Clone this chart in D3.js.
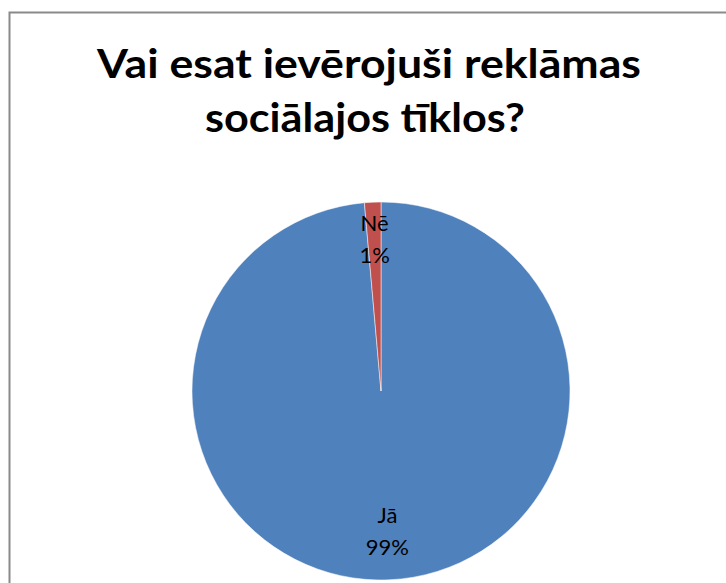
<!DOCTYPE html>
<html>
<head>
<meta charset="utf-8">
<script src="https://cdn.jsdelivr.net/npm/d3@7"></script>
<style>
  html, body { margin: 0; padding: 0; background: #fff; }
  svg { display: block; }
</style>
</head>
<body>
<svg id="chart"></svg>
<script>
// data
const categories = ["Jā", "Nē"]
const values = [98.6, 1.4]
const pctLabels = ["99%", "1%"]
const colors = ["#4F81BD", "#C0504D"]
const titleLines = ["Vai esat ievērojuši reklāmas", "sociālajos tīklos?"]

const W = 726, H = 583
const svg = d3.select("#chart").attr("width", W).attr("height", H)

// chart frame (runs off right and bottom)
svg.append("rect")
    .attr("x", 9.5).attr("y", 12.5)
    .attr("width", W + 20).attr("height", H + 20)
    .attr("fill", "#fff")
    .attr("stroke", "#8a8a8a")
    .attr("stroke-width", 2)

// title
const titleWidths = [544, 320]
svg.append("g").selectAll("text")
    .data(titleLines)
    .enter().append("text")
    .attr("x", (d, i) => i === 0 ? 369 : 365)
    .attr("y", (d, i) => 78 + i * 54)
    .attr("text-anchor", "middle")
    .attr("font-family", "Lato, 'Open Sans', sans-serif")
    .attr("font-weight", "bold")
    .attr("font-size", 40)
    .attr("textLength", (d, i) => titleWidths[i])
    .attr("lengthAdjust", "spacingAndGlyphs")
    .attr("fill", "#000")
    .text(d => d)

// pie
const cx = 381, cy = 391, r = 189
const data = categories.map((c, i) => ({name: c, value: values[i], label: pctLabels[i], color: colors[i]}))
const pie = d3.pie().sort(null).value(d => d.value)
const arc = d3.arc().innerRadius(0).outerRadius(r)
const labelR = 146
const labelArc = d3.arc().innerRadius(labelR).outerRadius(labelR)

const g = svg.append("g").attr("transform", `translate(${cx},${cy})`)
const arcs = pie(data)

g.selectAll("path")
    .data(arcs)
    .enter().append("path")
    .attr("d", arc)
    .attr("fill", d => d.data.color)
    .attr("stroke", "#fff")
    .attr("stroke-width", 0.5)

// data labels: category + percent
const labels = g.selectAll(".lbl")
    .data(arcs)
    .enter().append("text")
    .attr("class", "lbl")
    .attr("transform", d => `translate(${labelArc.centroid(d)})`)
    .attr("text-anchor", "middle")
    .attr("font-family", "Lato, 'Open Sans', sans-serif")
    .attr("font-size", 22)
    .attr("fill", "#000")
labels.append("tspan")
    .attr("x", 0).attr("dy", -14)
    .text(d => d.data.name)
labels.append("tspan")
    .attr("x", 0).attr("dy", 32)
    .text(d => d.data.label)
</script>
</body>
</html>
